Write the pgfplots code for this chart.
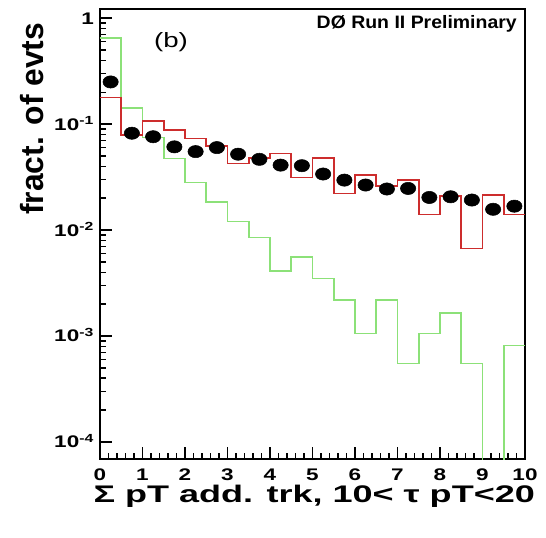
\documentclass[border=0pt]{standalone}
\usepackage{fontspec}
\setmainfont{Liberation Sans}
\newfontfamily\tickfont[FakeStretch=1.34]{Liberation Sans}
\usepackage{graphicx}
\usepackage{pgfplots}
\pgfplotsset{compat=1.18}
\definecolor{hred}{RGB}{205,45,45}
\definecolor{hgreen}{RGB}{140,225,120}
\begin{document}
\begin{tikzpicture}
\useasboundingbox (-75pt,-58.5pt) rectangle (334.5pt,344.25pt);
\begin{axis}[
  scale only axis,
  width=318.75pt, height=337.5pt,
  ymode=log,
  xmin=0, xmax=10,
  ymin=6.9e-5, ymax=1.22,
  xtick={0,1,2,3,4,5,6,7,8,9,10},
  xticklabels={0,1,2,3,4,5,6,7,8,9,10},
  minor x tick num=4,
  ytick={1e-4,1e-3,1e-2,1e-1,1},
  yticklabels={10\textsuperscript{-4},10\textsuperscript{-3},10\textsuperscript{-2},10\textsuperscript{-1},1},
  tick align=inside,
  xtick pos=bottom, ytick pos=left,
  major tick length=9pt, minor tick length=4.5pt,
  every tick/.style={black, line width=1pt},
  axis line style={line width=1.3pt},
  tick label style={font=\tickfont\fontsize{12.6}{14}\selectfont\bfseries},
  xticklabel style={yshift=-4pt},
  yticklabel style={anchor=base east, yshift=-4.5pt, xshift=-1pt},
  xlabel={\resizebox{331pt}{\height}{\fontsize{18}{20}\selectfont\bfseries Σ pT add. trk, 10< τ pT<20}},
  xlabel style={at={(axis description cs:0.504,0)}, anchor=north, inner sep=0pt, yshift=-19.5pt},
  ylabel={\resizebox{144pt}{\height}{\fontsize{24}{26}\selectfont\bfseries fract. of evts}},
  ylabel style={at={(axis description cs:-0.161,0.756)}, anchor=center, inner sep=0pt},
  clip=true,
]
% green histogram
\addplot[const plot, hgreen, line width=1.2pt] coordinates {
(0,0.65) (0.5,0.1425) (1,0.075) (1.5,0.0475) (2,0.028) (2.5,0.0185)
(3,0.012) (3.5,0.0085) (4,0.0041) (4.5,0.0056) (5,0.0035) (5.5,0.0022)
(6,0.00106) (6.5,0.0022) (7,0.00055) (7.5,0.00106) (8,0.00164) (8.5,0.00055)
(9,1e-7) (9.5,0.00081) (10,0.00081)
};
% red histogram
\addplot[const plot, hred, line width=1.2pt] coordinates {
(0,0.179) (0.5,0.079) (1,0.107) (1.5,0.088) (2,0.073) (2.5,0.062)
(3,0.0425) (3.5,0.048) (4,0.053) (4.5,0.0314) (5,0.048) (5.5,0.0221)
(6,0.033) (6.5,0.026) (7,0.0296) (7.5,0.014) (8,0.021) (8.5,0.0067)
(9,0.0214) (9.5,0.014) (10,0.014)
};
% data points
\addplot[only marks, mark=*, mark size=4.6pt, mark options={fill=black, draw=black, xscale=1.25}] coordinates {
(0.25,0.25) (0.75,0.082) (1.25,0.076) (1.75,0.061) (2.25,0.055) (2.75,0.06)
(3.25,0.052) (3.75,0.0465) (4.25,0.041) (4.75,0.0405) (5.25,0.0338) (5.75,0.0296)
(6.25,0.0266) (6.75,0.0244) (7.25,0.0247) (7.75,0.0203) (8.25,0.0206) (8.75,0.0192)
(9.25,0.0157) (9.75,0.0168)
};
\node[anchor=north east, inner sep=0pt] at ([xshift=-6pt,yshift=-4.5pt]rel axis cs:1,1)
  {\resizebox{150pt}{\height}{\fontsize{13.5}{14}\selectfont\bfseries DØ Run II Preliminary}};
\node[anchor=center, inner sep=0pt] at (rel axis cs:0.167,0.927)
  {\tickfont\fontsize{15.5}{16}\selectfont (b)};
\end{axis}
\end{tikzpicture}
\end{document}
